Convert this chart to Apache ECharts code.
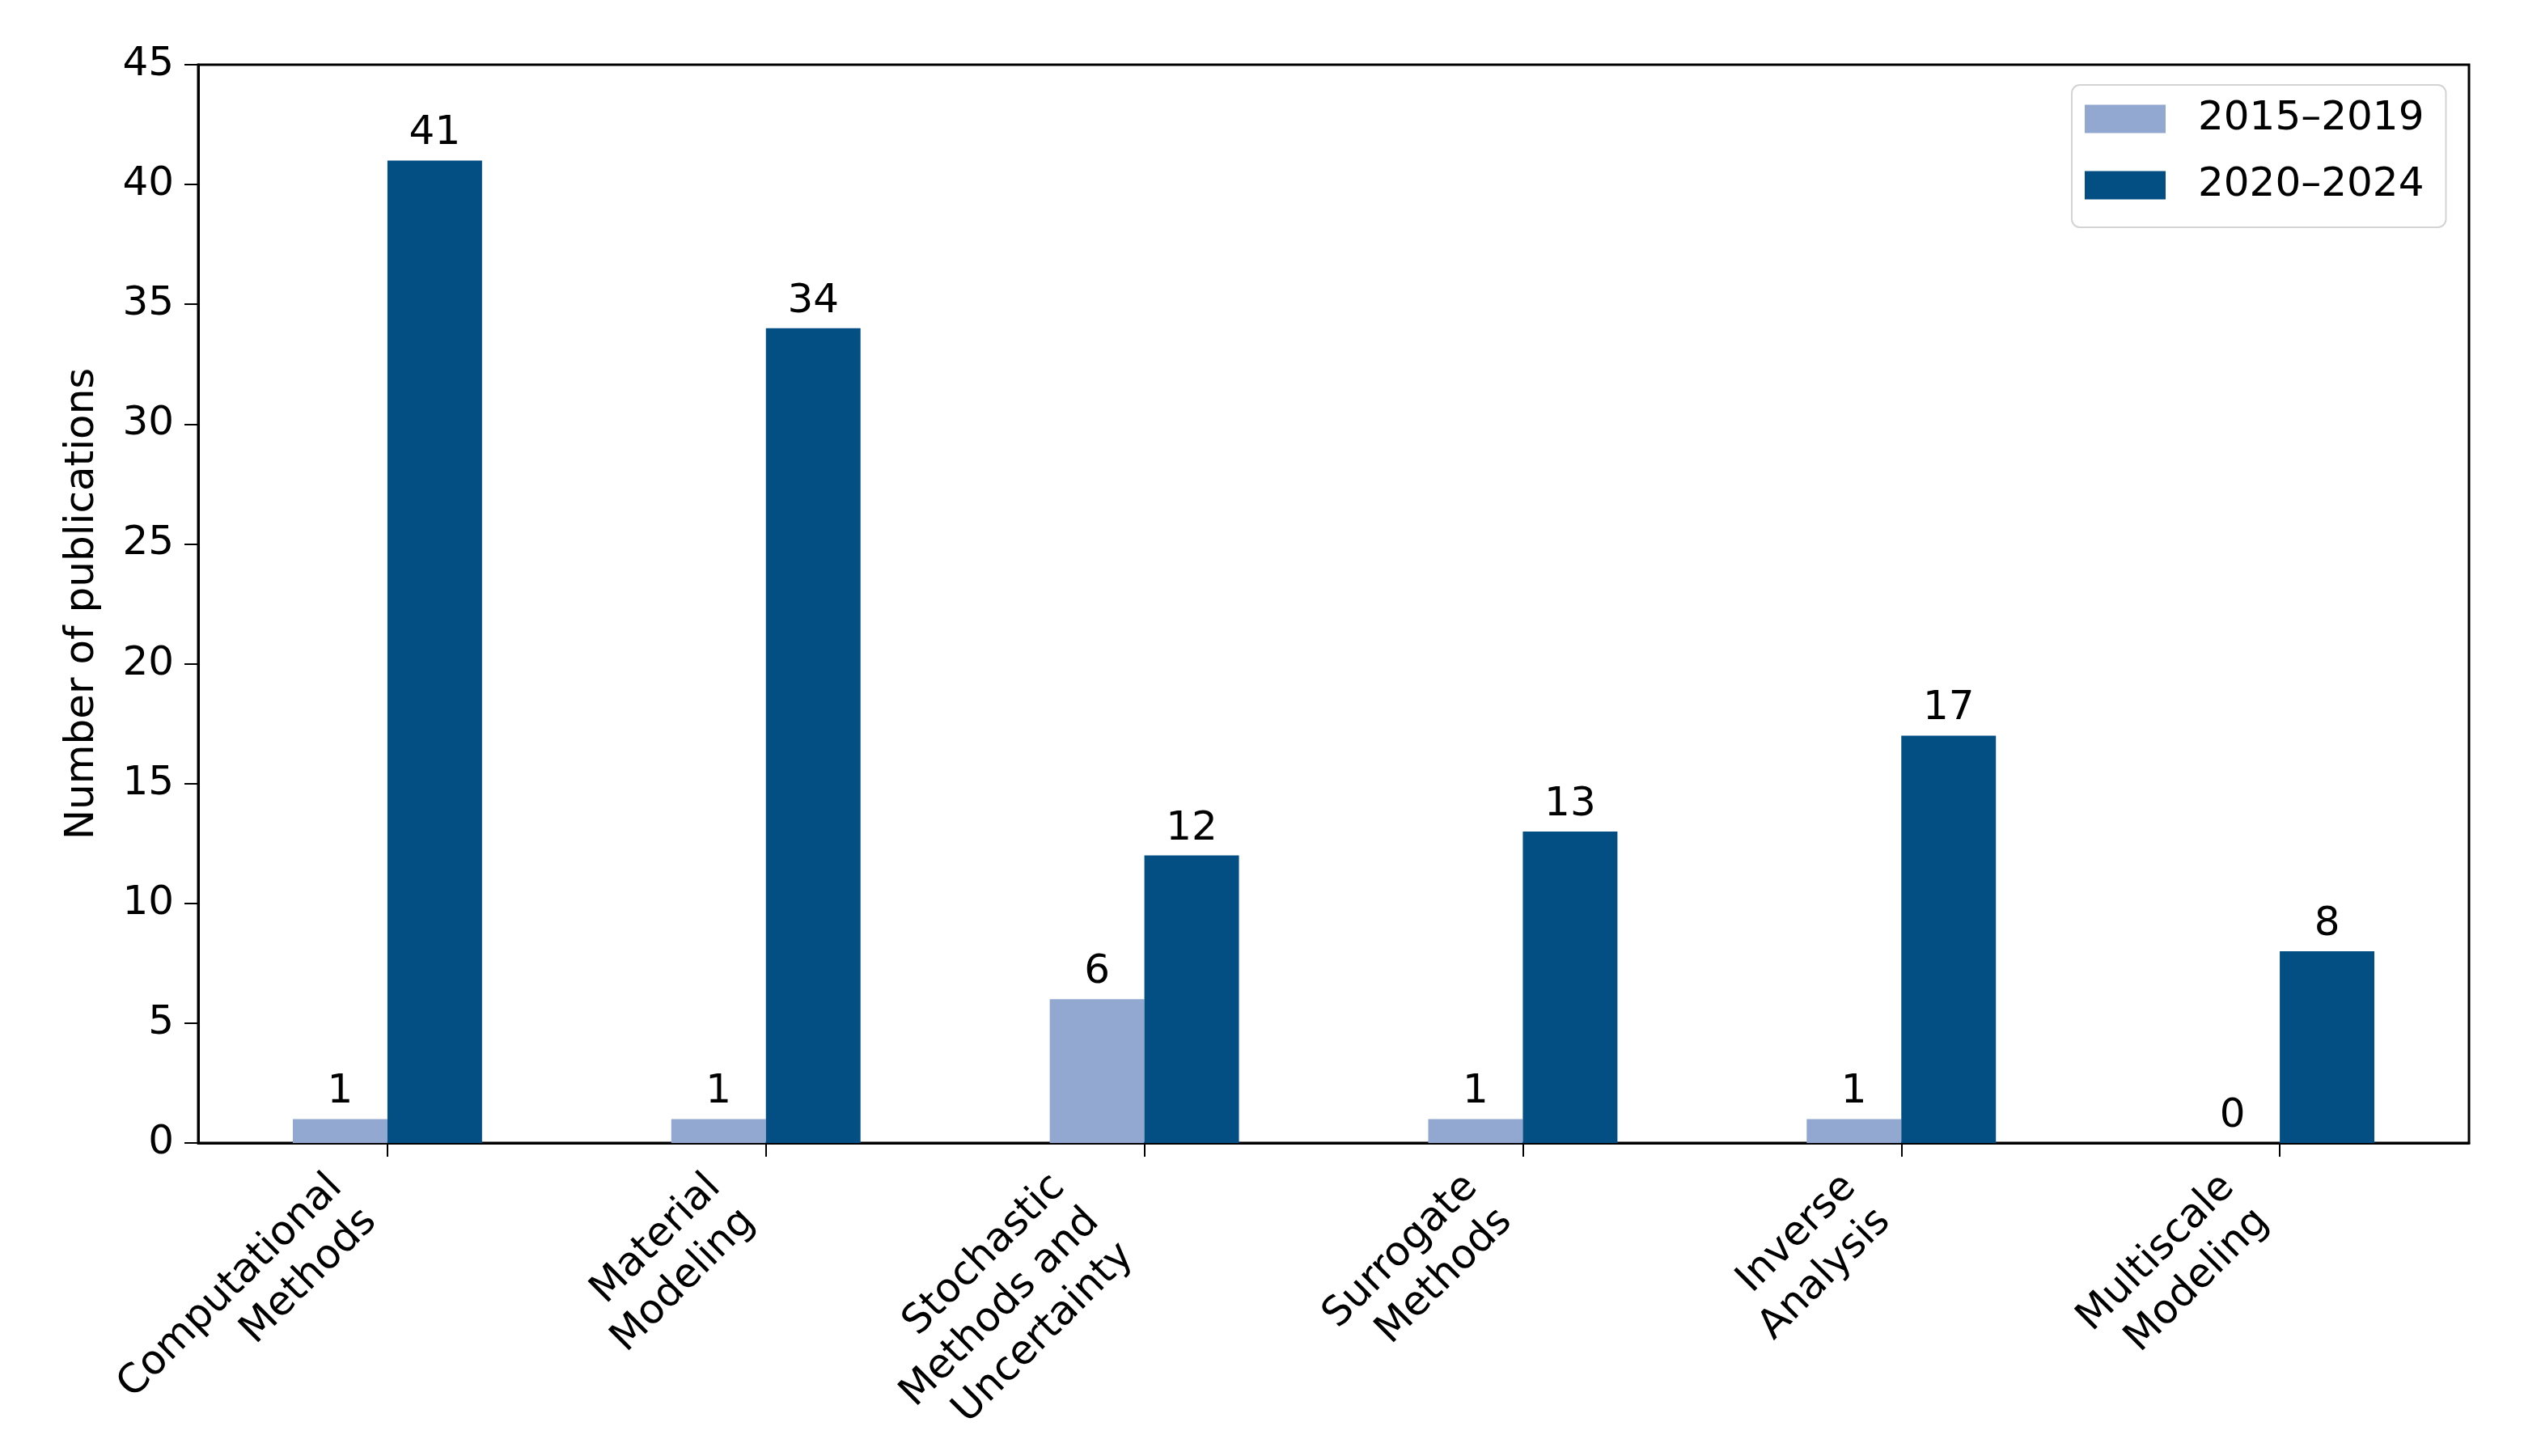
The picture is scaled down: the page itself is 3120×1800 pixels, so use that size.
<!DOCTYPE html>
<html><head><meta charset="utf-8">
<script src="https://cdn.jsdelivr.net/npm/echarts@6/dist/echarts.min.js"></script>
<style>html,body{margin:0;padding:0;background:#fff}#c{width:3120px;height:1800px}</style>
</head><body><div id="c"></div>
<script>
// ---- data ----
const categories = ['Computational\nMethods', 'Material\nModeling', 'Stochastic\nMethods and\nUncertainty', 'Surrogate\nMethods', 'Inverse\nAnalysis', 'Multiscale\nModeling'];
const seriesNames = ['2015–2019', '2020–2024'];
const values2015to2019 = [1, 1, 6, 1, 1, 0];
const values2020to2024 = [41, 34, 12, 13, 17, 8];
const yMin = 0, yMax = 45, yInterval = 5;
const yAxisTitle = 'Number of publications';

// ---- style ----
const FONT = 'DejaVu Sans';
const FS = 50;
const LINE_H = 60;
const colors = ['#92A8D1', '#034F84'];

const chart = echarts.init(document.getElementById('c'), null, { renderer: 'canvas' });
const xData = categories.map(c => {
  const n = c.split('\n').length;
  return { value: c, textStyle: { padding: [0, n * LINE_H / 2, 0, 0] } };
});

chart.setOption({
  animation: false,
  backgroundColor: '#fff',
  textStyle: { fontFamily: FONT },
  grid: {
    left: 245, right: 68, top: 80, bottom: 387,
    show: true, borderColor: '#000', borderWidth: 3, backgroundColor: 'transparent',
    containLabel: false, outerBoundsMode: 'none'
  },
  legend: {
    orient: 'vertical', left: 2561, top: 105,
    icon: 'rect', itemWidth: 100, itemHeight: 35, itemGap: 32,
    padding: [17, 27, 27, 16],
    borderColor: '#d4d4d4', borderWidth: 2, borderRadius: 10, backgroundColor: '#fff',
    textStyle: { fontFamily: FONT, fontSize: FS, lineHeight: 50, color: '#000', padding: [0, 0, 0, 35] },
    data: seriesNames
  },
  xAxis: {
    type: 'category', data: xData,
    axisLine: { show: true, lineStyle: { color: '#000', width: 3 } },
    axisTick: { show: true, alignWithLabel: true, length: 17, lineStyle: { color: '#000', width: 2 } },
    axisLabel: {
      interval: 0, rotate: 45, margin: 26, color: '#000',
      fontFamily: FONT, fontSize: FS, lineHeight: LINE_H, hideOverlap: false
    },
    splitLine: { show: false }
  },
  yAxis: {
    type: 'value', min: yMin, max: yMax, interval: yInterval,
    name: yAxisTitle, nameLocation: 'middle', nameGap: 118, nameRotate: 90,
    nameTextStyle: { fontFamily: FONT, fontSize: FS, color: '#000' },
    axisLine: { show: true, lineStyle: { color: '#000', width: 3 } },
    axisTick: { show: true, length: 17, lineStyle: { color: '#000', width: 2 } },
    axisLabel: { margin: 30, color: '#000', fontFamily: FONT, fontSize: FS },
    splitLine: { show: false }
  },
  series: [
    {
      name: seriesNames[0], type: 'bar', data: values2015to2019,
      barWidth: '25%', barGap: '0%',
      itemStyle: { color: colors[0] },
      label: { show: true, position: 'top', distance: 8, color: '#000', fontFamily: FONT, fontSize: FS, lineHeight: 50 }
    },
    {
      name: seriesNames[1], type: 'bar', data: values2020to2024,
      barWidth: '25%', barGap: '0%',
      itemStyle: { color: colors[1] },
      label: { show: true, position: 'top', distance: 8, color: '#000', fontFamily: FONT, fontSize: FS, lineHeight: 50 }
    }
  ]
});
</script>
</body></html>
